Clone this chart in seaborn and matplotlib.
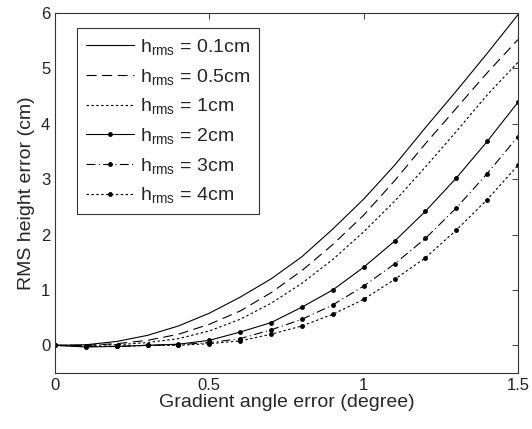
import numpy as np
import pandas as pd
import seaborn as sns
import matplotlib
matplotlib.use("Agg")
import matplotlib.pyplot as plt

# datos (error de angulo en grados)
angle = [0.0, 0.1, 0.2, 0.3, 0.4, 0.5, 0.6, 0.7, 0.8, 0.9, 1.0, 1.1, 1.2, 1.3, 1.4, 1.5]
err_01 = [0.0, 0.01, 0.07, 0.18, 0.35, 0.58, 0.87, 1.2, 1.6, 2.1, 2.64, 3.25, 3.93, 4.59, 5.27, 5.97]
err_05 = [0.0, 0.0, 0.03, 0.09, 0.2, 0.38, 0.62, 0.95, 1.35, 1.82, 2.35, 2.97, 3.64, 4.28, 4.92, 5.52]
err_1 = [0.0, 0.0, 0.01, 0.05, 0.12, 0.26, 0.47, 0.76, 1.12, 1.55, 2.05, 2.6, 3.22, 3.86, 4.52, 5.11]
err_2 = [0.0, -0.03, -0.02, 0.0, 0.02, 0.09, 0.24, 0.41, 0.69, 1.0, 1.41, 1.88, 2.42, 3.02, 3.68, 4.39]
err_3 = [0.0, -0.02, -0.02, 0.0, 0.01, 0.05, 0.12, 0.28, 0.47, 0.73, 1.07, 1.47, 1.93, 2.48, 3.1, 3.77]
err_4 = [0.0, -0.02, -0.02, 0.0, 0.0, 0.03, 0.08, 0.2, 0.35, 0.56, 0.83, 1.19, 1.58, 2.08, 2.63, 3.25]

labels = ["0.1cm", "0.5cm", "1cm", "2cm", "3cm", "4cm"]
series = [err_01, err_05, err_1, err_2, err_3, err_4]

sns.set_style("white")
plt.rcParams["font.family"] = ["Liberation Sans", "DejaVu Sans"]
plt.rcParams["mathtext.fontset"] = "custom"
plt.rcParams["mathtext.rm"] = "Liberation Sans"
plt.rcParams["mathtext.it"] = "Liberation Sans"

estilos = [
    dict(linestyle="-", marker=None),
    dict(linestyle=(0, (9, 5)), marker=None),
    dict(linestyle=(0, (2.2, 2.2)), marker=None),
    dict(linestyle="-", marker="."),
    dict(linestyle=(0, (8, 3, 1, 3)), marker="."),
    dict(linestyle=(0, (2.2, 2.2)), marker="."),
]

fig = plt.figure(figsize=(5.32, 4.29), dpi=100)
ax = fig.add_axes([0.1034, 0.1305, 0.8703, 0.8392])

for lab, vals, st in zip(labels, series, estilos):
    sns.lineplot(x=angle, y=vals, ax=ax, color="black", linewidth=0.8,
                 linestyle=st["linestyle"], marker=st["marker"],
                 markersize=7, markeredgewidth=0,
                 label=r"h$_{\rm rms}$ = " + lab)

ax.set_xlim(0, 1.5)
ax.set_ylim(-0.5, 6)
ax.set_xticks([0, 0.5, 1, 1.5])
ax.set_xticklabels(["0", "0.5", "1", "1.5"])
ax.set_yticks(range(0, 7))
ax.tick_params(direction="in", length=4, width=0.6, labelsize=12,
               top=True, right=True, colors="#222222")
for s in ax.spines.values():
    s.set_color("#333333")
    s.set_linewidth(0.8)
ax.set_xlabel("Gradient angle error (degree)", fontsize=14, labelpad=1)
ax.set_ylabel("RMS height error (cm)", fontsize=14, labelpad=4)

leg = ax.legend(loc="upper left", bbox_to_anchor=(0.0475, 0.958), fontsize=14,
                frameon=True, fancybox=False, handlelength=2.5,
                handletextpad=0.3, labelspacing=0.5, borderpad=0.45,
                borderaxespad=0)
leg.get_frame().set_edgecolor("black")
leg.get_frame().set_linewidth(0.8)

plt.savefig("out.png", dpi=100)
plt.close()
